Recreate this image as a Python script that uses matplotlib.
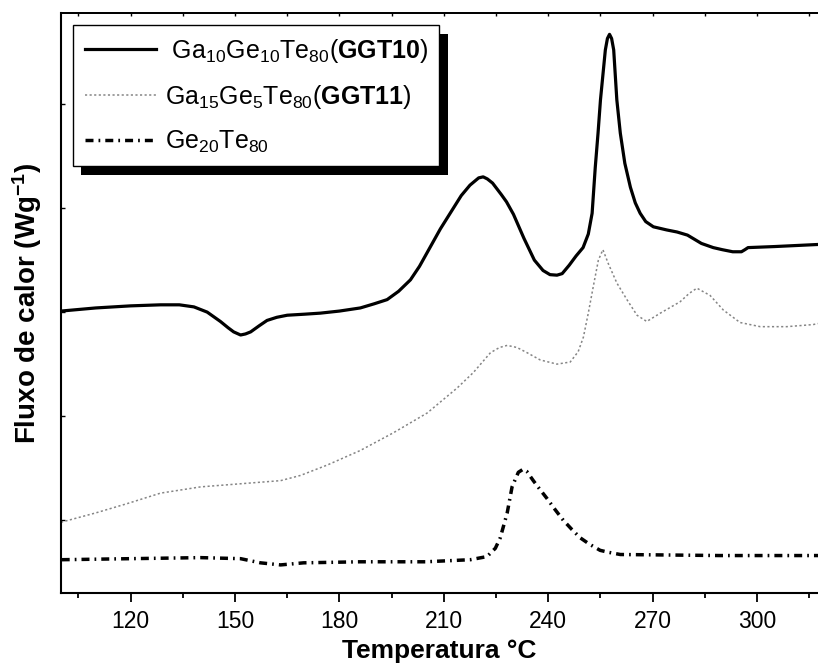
import matplotlib
matplotlib.use('Agg')
import matplotlib.pyplot as plt
from matplotlib import patheffects

# DSC curves (heat flow, arbitrary offset units) vs temperature in °C
temp_ggt10 = [100, 110, 120, 128.6, 134, 138.2, 142, 145.8, 148, 149.6, 151.6, 153, 154.5,
              157, 159.2, 162, 165, 170, 174.5, 180, 186, 190, 193.7, 197, 200.4,
              203, 206, 209, 212, 215, 217.5, 220, 221.3, 222.5, 224, 226.5, 228,
              230, 233, 236, 238.5, 240.5, 242.5, 244, 246, 248, 250, 251.5, 252.6,
              253.5, 254.3, 255, 256.4, 257, 257.6, 258.2, 258.8, 259.7, 260.7, 262,
              263.6, 265, 266.4, 268, 270.2, 274, 277, 280, 282, 284, 287.4, 290,
              293, 295.5, 296.5, 297.4, 305, 317.5]
flux_ggt10 = [3.01, 3.04, 3.06, 3.07, 3.07, 3.05, 3.00, 2.91, 2.85, 2.81, 2.78, 2.79, 2.81,
              2.87, 2.92, 2.95, 2.97, 2.98, 2.99, 3.01, 3.04, 3.08, 3.12, 3.20, 3.31,
              3.44, 3.62, 3.80, 3.96, 4.12, 4.22, 4.29, 4.30, 4.28, 4.24, 4.13, 4.06,
              3.94, 3.71, 3.50, 3.40, 3.36, 3.355, 3.37, 3.45, 3.54, 3.62, 3.75, 3.95,
              4.39, 4.72, 5.04, 5.52, 5.63, 5.67, 5.63, 5.52, 5.04, 4.72, 4.43,
              4.20, 4.05, 3.95, 3.87, 3.82, 3.79, 3.77, 3.74, 3.70, 3.66, 3.62, 3.60,
              3.58, 3.58, 3.60, 3.62, 3.63, 3.65]

temp_ggt11 = [100, 110, 119.1, 128.6, 140.1, 151.6, 163.1, 168.8, 176.5, 186, 195.5, 205.2,
              213.8, 218.5, 223.4, 226, 228.2, 231, 233.9, 237.7, 242.5, 246.3, 248.6,
              250.1, 251.5, 252.9, 254.4, 255.7, 257.2, 259.7, 262.6, 265.5, 268.3,
              272.2, 277.9, 280.5, 282.7, 286.5, 290.3, 295.1, 300.9, 308.5, 316.1, 317.5]
flux_ggt11 = [0.98, 1.07, 1.16, 1.26, 1.32, 1.35, 1.38, 1.43, 1.53, 1.67, 1.84, 2.03,
              2.27, 2.42, 2.61, 2.66, 2.68, 2.66, 2.61, 2.54, 2.50, 2.52, 2.62,
              2.76, 2.99, 3.24, 3.50, 3.60, 3.47, 3.28, 3.12, 2.97, 2.91,
              2.99, 3.10, 3.18, 3.23, 3.16, 3.02, 2.90, 2.86, 2.86, 2.88, 2.89]

temp_gete = [100.2, 120, 140.1, 151.6, 157.3, 163.1, 169.7, 186, 204.7, 217.6, 222.4, 224.8,
             226.2, 228.2, 229.6, 231.4, 232.8, 233.8, 235.7, 237.5, 239.6, 242, 244.3,
             246.8, 249.2, 251.8, 254.9, 257.5, 260.7, 289.4, 317.5]
flux_gete = [0.62, 0.63, 0.64, 0.63, 0.59, 0.57, 0.59, 0.60, 0.60, 0.62, 0.65, 0.73,
             0.83, 1.07, 1.32, 1.46, 1.49, 1.47, 1.38, 1.30, 1.21, 1.10, 1.00,
             0.91, 0.83, 0.77, 0.71, 0.69, 0.67, 0.66, 0.66]

labels = [r' Ga$_{10}$Ge$_{10}$Te$_{80}$(' + r'$\mathbf{GGT10}$' + ')',
          r'Ga$_{15}$Ge$_{5}$Te$_{80}$(' + r'$\mathbf{GGT11}$' + ')',
          r'Ge$_{20}$Te$_{80}$']

plt.rcParams['font.family'] = ['Liberation Sans', 'DejaVu Sans']
plt.rcParams['mathtext.fontset'] = 'custom'
plt.rcParams['mathtext.rm'] = 'Liberation Sans'
plt.rcParams['mathtext.it'] = 'Liberation Sans:italic'
plt.rcParams['mathtext.bf'] = 'Liberation Sans:bold'

fig = plt.figure(figsize=(8.18, 6.69), dpi=100)
ax = fig.add_axes([61 / 818, 76 / 669, 757 / 818, 580 / 669])

ax.plot(temp_ggt10, flux_ggt10, color='black', lw=2.3, ls='-', label=labels[0])
ax.plot(temp_ggt11, flux_ggt11, color='#858585', lw=1.1, ls=(0, (1.4, 1.6)), label=labels[1])
ax.plot(temp_gete, flux_gete, color='black', lw=2.5, ls=(0, (2.3, 1.45, 0.5, 1.45)), label=labels[2])

ax.set_xlim(100, 317.5)
ax.set_ylim(0.3, 5.875)

ax.set_xticks(range(120, 301, 30))
ax.set_xticks(range(105, 316, 15), minor=True)
ax.tick_params(axis='x', which='major', direction='out', length=6.5, width=1.3,
               labelsize=16.5, pad=6, top=False)
ax.tick_params(axis='x', which='minor', direction='out', length=3.5, width=1.3, top=False)
ax.set_yticks([1, 2, 3, 4, 5])
ax.set_yticklabels([])
ax.tick_params(axis='y', direction='in', length=3, width=1, left=True, right=False)

# inward ticks along the top frame, no labels
top = ax.secondary_xaxis('top')
top.set_xticks(range(105, 316, 15))
top.tick_params(axis='x', direction='in', length=2.5, width=1, labeltop=False, labelbottom=False)
top.spines['top'].set_linewidth(1.3)

ax.spines['right'].set_visible(False)
ax.spines['left'].set_linewidth(1.5)
ax.spines['bottom'].set_linewidth(1.5)
ax.spines['top'].set_linewidth(1.3)

ax.set_xlabel('Temperatura °C', fontsize=19, fontweight='bold', labelpad=4)
ax.set_ylabel(r'Fluxo de calor (Wg$^{\mathbf{-1}}$)', fontsize=20, fontweight='bold', labelpad=9)

leg = ax.legend(loc='upper left', bbox_to_anchor=(0.016, 0.979), borderaxespad=0,
                fontsize=18, frameon=True, fancybox=False, edgecolor='black',
                framealpha=1, handlelength=2.85, handletextpad=0.35,
                labelspacing=0.72, borderpad=0.46)
leg.get_frame().set_linewidth(1.0)
leg.get_frame().set_path_effects([
    patheffects.SimplePatchShadow(offset=(6, -6), shadow_rgbFace='black', alpha=1.0),
    patheffects.Normal()])

fig.savefig('out.png', dpi=100)
